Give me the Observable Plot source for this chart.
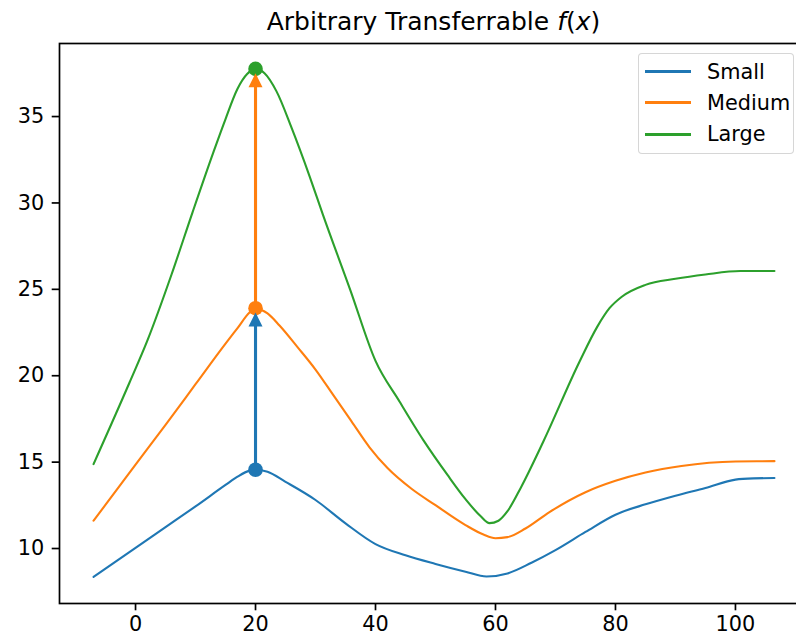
<!DOCTYPE html>
<html>
<head>
<meta charset="utf-8">
<script src="https://cdn.jsdelivr.net/npm/d3@7"></script>
<script src="https://cdn.jsdelivr.net/npm/@observablehq/plot@0.6"></script>
<style>
  html, body { margin: 0; padding: 0; background: white; overflow: hidden; }
  #wrap { position: relative; width: 796px; height: 635px; font-family: "DejaVu Sans", sans-serif; }
  #title { position: absolute; left: 59px; width: 749px; top: 9px; text-align: center; font-size: 25px; line-height: 25px; color: black; white-space: nowrap; }
  #legend { position: absolute; left: 638px; top: 53px; width: 156px; height: 101px; border: 1px solid rgba(204,204,204,0.8); border-radius: 4px; background: rgba(255,255,255,0.8); box-sizing: border-box; }
  .sw { position: absolute; left: 6px; width: 46px; height: 3px; }
  .lab { position: absolute; left: 68px; font-size: 20.8px; line-height: 20.8px; white-space: nowrap; color: black; }
</style>
</head>
<body>
<div id="wrap">
  <div id="chart"></div>
  <div id="title">Arbitrary Transferrable <i>f</i>(<i>x</i>)</div>
  <div id="legend"></div>
</div>
<script>
// ---- data ----
const seriesNames = ["Small", "Medium", "Large"];
const seriesColors = ["#1f77b4", "#ff7f0e", "#2ca02c"];

const smallX = [-7, 0, 5, 10, 15, 17, 19, 20, 22, 25, 30, 35, 40, 45, 50, 55, 58.5, 62, 66, 70, 75, 80, 85, 90, 95, 100, 103, 106.5];
const smallY = [8.3, 9.98, 11.18, 12.38, 13.62, 14.1, 14.45, 14.5, 14.38, 13.8, 12.75, 11.4, 10.2, 9.55, 9.05, 8.6, 8.32, 8.5, 9.12, 9.85, 10.9, 11.9, 12.5, 13.0, 13.45, 13.93, 14.0, 14.02];

const mediumX = [-7, 0, 5, 10, 15, 17, 19, 20, 21, 22, 24, 27, 30, 33, 36, 39, 42, 46, 50, 55, 58, 60, 62, 65, 69, 75, 80, 85, 91, 100, 106.5];
const mediumY = [11.55, 14.8, 17.1, 19.45, 21.8, 22.7, 23.6, 23.85, 23.75, 23.55, 22.85, 21.6, 20.3, 18.8, 17.3, 15.8, 14.6, 13.4, 12.45, 11.3, 10.75, 10.54, 10.6, 11.1, 12.05, 13.2, 13.86, 14.34, 14.72, 14.98, 15.0];

const largeX = [-7, -1, 2, 6, 9.5, 13, 15, 17, 18.6, 20, 21.5, 23.5, 26, 29, 31.2, 35.8, 40, 44, 48, 52, 55, 57.5, 59, 60.5, 62, 64.2, 68, 74, 77, 79, 81, 85, 90, 95, 100.8, 106.5];
const largeY = [14.83, 19.55, 22.0, 25.8, 29.4, 32.9, 34.8, 36.55, 37.4, 37.7, 37.45, 36.4, 34.3, 31.5, 29.3, 24.9, 20.8, 18.45, 16.2, 14.2, 12.8, 11.82, 11.41, 11.55, 12.1, 13.45, 16.15, 20.75, 22.8, 23.85, 24.5, 25.2, 25.55, 25.8, 26.0, 26.0];

const peakX = 20;
const peakY = [14.5, 23.85, 37.7];      // dots at the peak of each series
const arrowTipY = [23.2, 37.05];        // triangle heads (Small -> Medium, Medium -> Large)

const xTicks = [0, 20, 40, 60, 80, 100];
const yTicks = [10, 15, 20, 25, 30, 35];

// ---- build tables for the library ----
const seriesX = [smallX, mediumX, largeX];
const seriesY = [smallY, mediumY, largeY];
const curveData = [];
seriesNames.forEach((name, i) => {
  seriesX[i].forEach((x, j) => curveData.push({series: name, x, y: seriesY[i][j]}));
});
const peaks = seriesNames.map((name, i) => ({series: name, x: peakX, y: peakY[i]}));
const arrows = arrowTipY.map((tip, i) => ({series: seriesNames[i], x: peakX, from: peakY[i], to: peakY[i + 1], tip}));

// matplotlib-like "^" marker (width == height)
const triangleUp = {
  draw(context, size) {
    const h = Math.sqrt(size / Math.PI);
    context.moveTo(0, -h);
    context.lineTo(h, h);
    context.lineTo(-h, h);
    context.closePath();
  }
};

const chart = Plot.plot({
  width: 796,
  height: 635,
  marginLeft: 59,
  marginRight: -12,
  marginTop: 43,
  marginBottom: 32,
  x: {domain: [-12.675, 112.175]},
  y: {domain: [6.76, 39.17]},
  color: {domain: seriesNames, range: seriesColors},
  style: {fontFamily: "DejaVu Sans", fontSize: "20.8px", color: "black", background: "white"},
  marks: [
    Plot.line(curveData, {x: "x", y: "y", z: "series", stroke: "series", curve: "monotone-x", strokeWidth: 2.1}),
    Plot.ruleX(arrows, {x: "x", y1: "from", y2: "to", stroke: "series", strokeWidth: 3.1}),
    Plot.dot(peaks, {x: "x", y: "y", r: 7.3, fill: "series"}),
    Plot.dot(arrows, {x: "x", y: "tip", r: 7, symbol: triangleUp, fill: "series"}),
    Plot.frame({stroke: "black", strokeWidth: 1.7}),
    Plot.axisX({ticks: xTicks, tickSize: 7.3, tickPadding: 5, strokeWidth: 1.7, label: null}),
    Plot.axisY({ticks: yTicks, tickSize: 7.3, tickPadding: 8, strokeWidth: 1.7, label: null, dy: 1})
  ]
});
document.getElementById("chart").appendChild(chart);

// ---- legend ----
const legend = document.getElementById("legend");
seriesNames.forEach((name, i) => {
  const top = 17.7 + i * 31.2; // line centre within the box
  const sw = document.createElement("div");
  sw.className = "sw";
  sw.style.top = (top - 1.5) + "px";
  sw.style.background = seriesColors[i];
  legend.appendChild(sw);
  const lab = document.createElement("div");
  lab.className = "lab";
  lab.style.top = (top - 10) + "px";
  lab.textContent = name;
  legend.appendChild(lab);
});
</script>
</body>
</html>
